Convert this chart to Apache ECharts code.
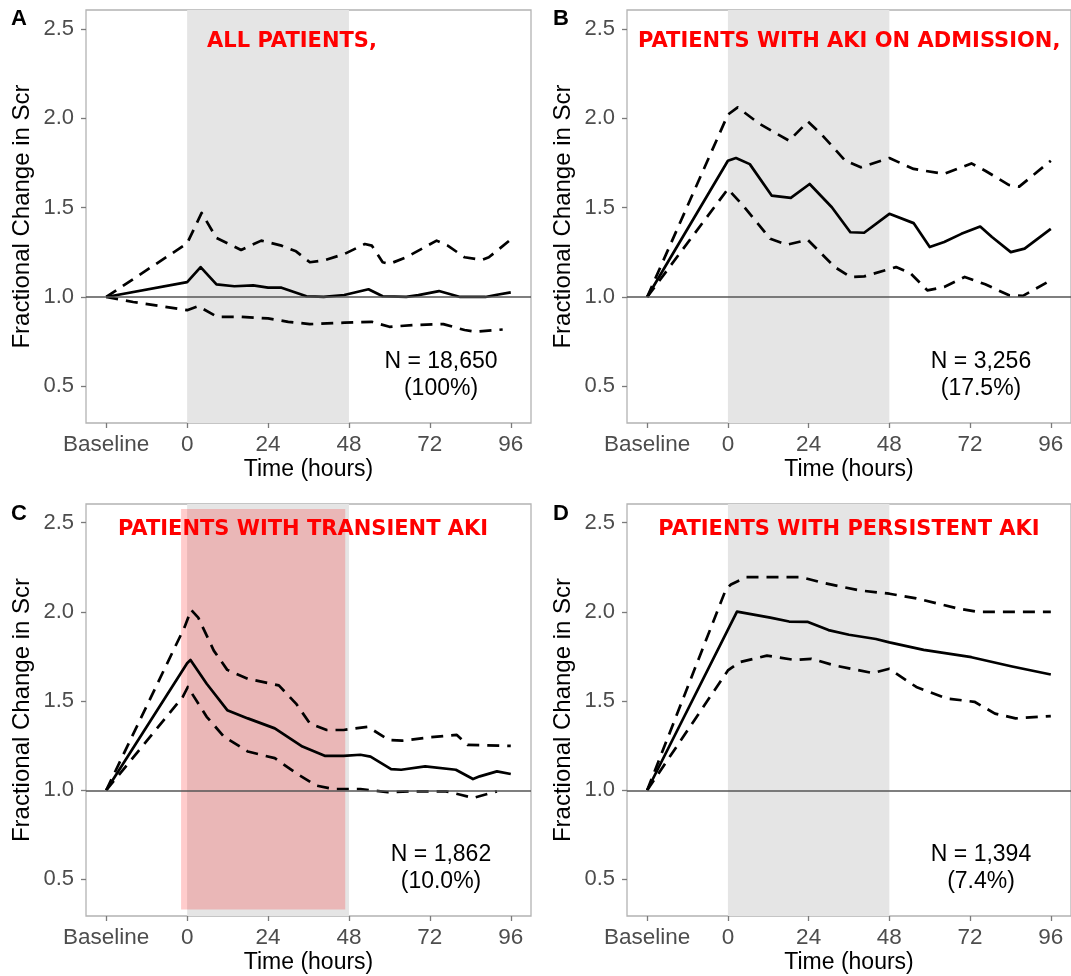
<!DOCTYPE html>
<html><head><meta charset="utf-8">
<script src="https://cdn.jsdelivr.net/npm/echarts@6/dist/echarts.min.js"></script>
<style>html,body{margin:0;padding:0;background:#fff}#c{width:1071px;height:976px}</style>
</head><body><div id="c"></div>
<script>
// ---------- DATA (hours; Baseline plotted at -24) ----------
const aMeanT = [-24, 0, 4, 8.7, 14, 19.6, 24, 28, 35.4, 40.5, 46.6, 53.8, 58, 65, 68.6, 74.7, 81, 88.5, 91.5, 96];
const aMeanV = [1.0, 1.083, 1.167, 1.07, 1.06, 1.065, 1.052, 1.052, 1.004, 1.0, 1.011, 1.043, 1.004, 1.0, 1.01, 1.033, 1.0, 1.0, 1.011, 1.026];
const aUpT = [-24, 0, 4.3, 8.7, 16, 22, 28, 32.3, 36.4, 40.5, 46.6, 52.7, 54.8, 58, 60, 65, 74, 77.3, 82.3, 87.4, 89.5, 95.6];
const aUpV = [1.0, 1.3, 1.47, 1.33, 1.263, 1.315, 1.287, 1.255, 1.194, 1.204, 1.24, 1.296, 1.287, 1.194, 1.185, 1.222, 1.315, 1.287, 1.222, 1.207, 1.222, 1.315];
const aLoT = [-24, -16, 0, 3.3, 8.9, 16, 24, 30, 36.4, 41.5, 46.6, 54.8, 60, 67, 76, 82.3, 85.4, 93.6];
const aLoV = [1.0, 0.972, 0.926, 0.948, 0.889, 0.889, 0.88, 0.861, 0.848, 0.852, 0.856, 0.861, 0.833, 0.843, 0.848, 0.815, 0.806, 0.818];

const bMeanT = [-24, 0, 2.4, 6.5, 13, 18.7, 24.3, 30.9, 36.4, 40.5, 48, 55.2, 60, 64.3, 69.4, 75, 78.5, 84.1, 88.2, 96];
const bMeanV = [1.0, 1.762, 1.777, 1.743, 1.567, 1.554, 1.632, 1.502, 1.362, 1.359, 1.465, 1.413, 1.279, 1.307, 1.353, 1.394, 1.335, 1.251, 1.27, 1.381];
const bUpT = [-24, 0, 2.9, 9.5, 18.2, 23.8, 27.8, 34.9, 39.5, 48, 55.2, 64.3, 72.4, 76.5, 83.6, 86.6, 96];
const bUpV = [1.0, 2.02, 2.06, 1.967, 1.874, 1.981, 1.91, 1.762, 1.725, 1.777, 1.716, 1.688, 1.747, 1.706, 1.626, 1.617, 1.762];
const bLoT = [-24, 0, 4.5, 12.6, 17.6, 23.7, 31.8, 36.4, 40.5, 50, 54.2, 59.3, 64.3, 70.4, 76.5, 83.6, 87.7, 96];
const bLoV = [1.0, 1.604, 1.511, 1.325, 1.292, 1.32, 1.167, 1.112, 1.115, 1.167, 1.134, 1.037, 1.056, 1.112, 1.071, 1.009, 1.006, 1.093];

const cMeanT = [-24, 0, 1, 5.8, 11.9, 18, 26, 34.2, 40.8, 46.4, 51.4, 54.4, 60.5, 63.5, 70.6, 79.7, 84.8, 86.8, 91.9, 96];
const cMeanV = [1.0, 1.712, 1.731, 1.597, 1.449, 1.403, 1.347, 1.245, 1.193, 1.193, 1.199, 1.189, 1.119, 1.115, 1.134, 1.115, 1.063, 1.078, 1.106, 1.091];
const cUpT = [-24, -0.8, 1.2, 3.3, 7.9, 11.9, 18, 27.2, 32.3, 36.4, 41.4, 46.4, 53.6, 59.8, 63.8, 72, 80, 83.2, 96];
const cUpV = [1.0, 1.913, 2.011, 1.968, 1.783, 1.675, 1.625, 1.588, 1.486, 1.375, 1.338, 1.338, 1.356, 1.282, 1.278, 1.297, 1.31, 1.254, 1.249];
const cLoT = [-24, -1.3, 0.2, 5.8, 10.9, 18, 26, 32.3, 38.3, 43.4, 51.4, 59.5, 66.6, 76.8, 80.8, 84.8, 91.9];
const cLoV = [1.0, 1.523, 1.579, 1.412, 1.301, 1.217, 1.18, 1.096, 1.026, 1.007, 1.007, 0.989, 0.994, 0.994, 0.976, 0.957, 0.994];

const dMeanT = [-24, 2.7, 12.6, 18.2, 23.8, 29.9, 36, 44, 48, 58.2, 72.4, 84.5, 96];
const dMeanV = [1.0, 2.002, 1.968, 1.946, 1.944, 1.898, 1.872, 1.848, 1.829, 1.787, 1.746, 1.694, 1.649];
const dUpT = [-24, -0.6, 0.9, 5.5, 13.6, 21.7, 27.8, 39, 48, 56, 68.2, 74.3, 96];
const dUpV = [1.0, 2.126, 2.154, 2.195, 2.195, 2.195, 2.165, 2.121, 2.102, 2.076, 2.02, 2.0, 2.0];
const dLoT = [-24, 0, 3.4, 11.6, 19.7, 24.8, 31.9, 43.1, 48, 56, 65.2, 73.3, 79.4, 85.5, 96];
const dLoV = [1.0, 1.672, 1.718, 1.755, 1.731, 1.737, 1.699, 1.657, 1.681, 1.579, 1.514, 1.496, 1.43, 1.403, 1.416];

const xTickValues = [-24, 0, 24, 48, 72, 96];
const xTickLabels = ['Baseline', '0', '24', '48', '72', '96'];
const yTickValues = [0.5, 1.0, 1.5, 2.0, 2.5];
const panelLetters = ['A', 'B', 'C', 'D'];
const panelTitles = ['ALL PATIENTS,', 'PATIENTS WITH AKI ON ADMISSION,', 'PATIENTS WITH TRANSIENT AKI', 'PATIENTS WITH PERSISTENT AKI'];
const nLabels = ['N = 18,650', 'N = 3,256', 'N = 1,862', 'N = 1,394'];
const pctLabels = ['(100%)', '(17.5%)', '(10.0%)', '(7.4%)'];
const shadeHours = [0, 48];
const pinkHours = [-1.8, 46.9];
const pinkValues = [0.331, 2.577];
const refValue = 1.0;

const panelData = [
  {mean: [aMeanT, aMeanV], up: [aUpT, aUpV], lo: [aLoT, aLoV]},
  {mean: [bMeanT, bMeanV], up: [bUpT, bUpV], lo: [bLoT, bLoV]},
  {mean: [cMeanT, cMeanV], up: [cUpT, cUpV], lo: [cLoT, cLoV]},
  {mean: [dMeanT, dMeanV], up: [dUpT, dUpV], lo: [dLoT, dLoV]}
];

// ---------- LAYOUT ----------
const grids = [
  {left: 86, top: 10, width: 445, height: 413},
  {left: 627, top: 10, width: 445, height: 413},
  {left: 86, top: 504, width: 445, height: 412},
  {left: 627, top: 504, width: 445, height: 412}
];
const FONT = 'Liberation Sans, Arial, sans-serif';
const pair = (t, v) => t.map((x, i) => [x, v[i]]);

const option = {
  animation: false,
  backgroundColor: '#fff',
  grid: grids.map(g => Object.assign({show: true, borderColor: '#b3b3b3', borderWidth: 1.3, backgroundColor: 'transparent', containLabel: false}, g)),
  xAxis: grids.map((g, i) => ({
    type: 'value', gridIndex: i, min: -30, max: 102, position: 'bottom',
    splitLine: {show: false}, axisLine: {show: false, onZero: false},
    axisTick: {show: true, customValues: xTickValues, length: 5, lineStyle: {color: '#7a7a7a', width: 1.3}},
    axisLabel: {customValues: xTickValues, fontSize: 22.5, color: '#4d4d4d', fontFamily: FONT, margin: 10,
      formatter: v => xTickLabels[xTickValues.indexOf(v)] ?? String(v)},
    name: 'Time (hours)', nameLocation: 'middle', nameGap: 35,
    nameTextStyle: {fontSize: 23, color: '#000', fontFamily: FONT}
  })),
  yAxis: grids.map((g, i) => ({
    type: 'value', gridIndex: i, min: 0.295, max: 2.605, position: 'left',
    splitLine: {show: false}, axisLine: {show: false, onZero: false},
    axisTick: {show: true, customValues: yTickValues, length: 5, lineStyle: {color: '#7a7a7a', width: 1.3}},
    axisLabel: {customValues: yTickValues, fontSize: 22, color: '#4d4d4d', fontFamily: FONT, margin: 12,
      formatter: v => v.toFixed(1)},
    name: 'Fractional Change in Scr', nameLocation: 'middle', nameGap: 52,
    nameTextStyle: {fontSize: 24, color: '#000', fontFamily: FONT}
  })),
  series: [],
  graphic: []
};

panelData.forEach((p, i) => {
  // grey window 0-48 h
  option.series.push({
    type: 'line', xAxisIndex: i, yAxisIndex: i, z: 1, silent: true,
    data: [[-24, refValue]], showSymbol: false, lineStyle: {width: 0},
    markArea: {silent: true, itemStyle: {color: '#e5e5e5'},
      data: [[{xAxis: shadeHours[0]}, {xAxis: shadeHours[1]}]]}
  });
  if (i === 2) {
    option.series.push({
      type: 'line', xAxisIndex: i, yAxisIndex: i, z: 2, silent: true,
      data: [[-24, refValue]], showSymbol: false, lineStyle: {width: 0},
      markArea: {silent: true, itemStyle: {color: 'rgba(255,0,0,0.2)'},
        data: [[{xAxis: pinkHours[0], yAxis: pinkValues[1]}, {xAxis: pinkHours[1], yAxis: pinkValues[0]}]]}
    });
  }
  // reference line at 1.0
  option.series.push({
    type: 'line', xAxisIndex: i, yAxisIndex: i, z: 3, silent: true,
    data: [[-24, refValue]], showSymbol: false, lineStyle: {width: 0},
    markLine: {silent: true, symbol: ['none', 'none'], label: {show: false},
      lineStyle: {color: '#555', width: 1.6, type: 'solid'}, data: [{yAxis: refValue}]}
  });
  [['mean', 'solid'], ['up', [12, 8]], ['lo', [12, 8]]].forEach(([k, dash]) => {
    option.series.push({
      type: 'line', xAxisIndex: i, yAxisIndex: i, z: 4, silent: true,
      data: pair(p[k][0], p[k][1]), showSymbol: false, smooth: false,
      lineStyle: {color: '#000', width: 2.7, type: dash, join: 'round'}
    });
  });
});

// panel letters, titles, N labels
const letterPos = [[11, 8], [553, 8], [11, 503], [553, 503]];
const titlePos = [[292, 42, 'center'], [638, 42, 'left'], [303, 530, 'center'], [849, 530, 'center']];
const nPos = [[441, 362], [981, 362], [441, 855], [981, 855]];
for (let i = 0; i < 4; i++) {
  option.graphic.push({type: 'text', x: letterPos[i][0], y: letterPos[i][1], z: 100,
    style: {text: panelLetters[i], font: 'bold 22px ' + FONT, fill: '#000'}});
  option.graphic.push({type: 'text', x: titlePos[i][0], y: titlePos[i][1], z: 100,
    style: {text: panelTitles[i], font: 'bold 21px DejaVu Sans', fill: '#ff0000', align: titlePos[i][2], verticalAlign: 'middle'}});
  option.graphic.push({type: 'text', x: nPos[i][0], y: nPos[i][1], z: 100,
    style: {text: nLabels[i], font: '23px ' + FONT, fill: '#000', align: 'center', verticalAlign: 'middle'}});
  option.graphic.push({type: 'text', x: nPos[i][0], y: nPos[i][1] + 26.5, z: 100,
    style: {text: pctLabels[i], font: '23px ' + FONT, fill: '#000', align: 'center', verticalAlign: 'middle'}});
}

const chart = echarts.init(document.getElementById('c'), null, {renderer: 'canvas'});
chart.setOption(option);
</script>
</body></html>
